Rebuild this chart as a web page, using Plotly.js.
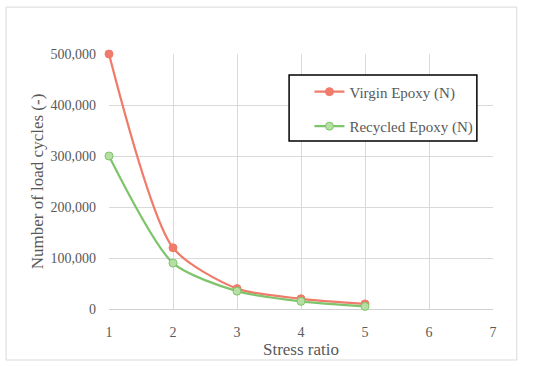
<!DOCTYPE html>
<html>
<head>
<meta charset="utf-8">
<script src="https://cdn.plot.ly/plotly-3.0.1.min.js"></script>
<style>html,body{margin:0;padding:0;background:#fff;}#chart{width:550px;height:366px;}</style>
</head>
<body>
<div id="chart"></div>
<script>
var stressRatio = [1, 2, 3, 4, 5];
var virginCycles = [500000, 120000, 40000, 20000, 10000];
var recycledCycles = [300000, 90000, 35000, 15000, 5000];
var seriesNames = ["Virgin Epoxy (N)", "Recycled Epoxy (N)"];
var xTicks = [1, 2, 3, 4, 5, 6, 7];
var yTicks = [0, 100000, 200000, 300000, 400000, 500000];
var yTickLabels = ["0", "100,000", "200,000", "300,000", "400,000", "500,000"];

var fontFam = "Liberation Serif, Times New Roman, serif";
var textColor = "#595959";

var traces = [
  {
    x: stressRatio, y: virginCycles, name: seriesNames[0], type: "scatter", mode: "lines+markers",
    line: {color: "#f07b6a", width: 2.2, shape: "spline", smoothing: 0.7},
    marker: {color: "#f07b6a", size: 8, line: {color: "#f07b6a", width: 1}},
    legendgroup: "a", cliponaxis: false
  },
  {
    x: stressRatio, y: recycledCycles, name: seriesNames[1], type: "scatter", mode: "lines+markers",
    line: {color: "#7dc46b", width: 2.2, shape: "spline", smoothing: 0.7},
    marker: {color: "#b6dfa4", size: 8, line: {color: "#7dc46b", width: 1}},
    legendgroup: "b", cliponaxis: false
  }
];

var layout = {
  width: 550, height: 366,
  paper_bgcolor: "#ffffff", plot_bgcolor: "#ffffff",
  margin: {l: 109, r: 57, t: 54, b: 57},
  font: {family: fontFam, color: textColor, size: 14},
  showlegend: true,
  legend: {
    x: 0.522, y: 0.916, xanchor: "left", yanchor: "top",
    bgcolor: "rgba(0,0,0,0)", borderwidth: 0,
    font: {family: fontFam, size: 15, color: textColor},
    traceorder: "grouped", tracegroupgap: 12
  },
  xaxis: {
    range: [1, 7], tickvals: xTicks, ticktext: xTicks.map(String),
    showgrid: true, gridcolor: "#d9d9d9", gridwidth: 1,
    zeroline: false, showline: false, ticks: "",
    ticklabelstandoff: 13,
    tickfont: {family: fontFam, size: 14, color: textColor},
    title: {text: "Stress ratio", font: {family: fontFam, size: 17, color: textColor}, standoff: 2},
    fixedrange: true
  },
  yaxis: {
    range: [0, 500000], tickvals: yTicks, ticktext: yTickLabels,
    showgrid: true, gridcolor: "#d9d9d9", gridwidth: 1,
    zeroline: true, zerolinecolor: "#d0d0d0", zerolinewidth: 1,
    showline: false, ticks: "",
    ticklabelstandoff: 12,
    tickfont: {family: fontFam, size: 14, color: textColor},
    title: {text: "Number of load cycles (-)", font: {family: fontFam, size: 17, color: textColor}, standoff: 2},
    fixedrange: true
  },
  shapes: [
    {type: "rect", xref: "paper", yref: "paper", x0: -0.268, x1: 1.062, y0: -0.2, y1: 1.184,
     line: {color: "#d9d9d9", width: 1}, fillcolor: "rgba(0,0,0,0)", layer: "below"},
    {type: "rect", xref: "paper", yref: "paper", x0: 0.469, x1: 0.958, y0: 0.659, y1: 0.918,
     line: {color: "#000000", width: 1.5}, fillcolor: "#ffffff", layer: "above"}
  ]
};

Plotly.newPlot("chart", traces, layout, {displayModeBar: false, staticPlot: true});
</script>
</body>
</html>
